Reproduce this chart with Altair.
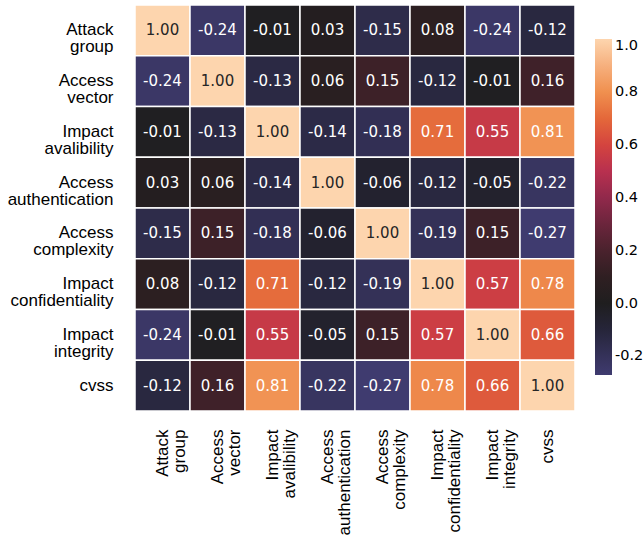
import altair as alt
import pandas as pd

# Feature names (a "|" marks the line break used in the axis labels)
features = [
    "Attack|group",
    "Access|vector",
    "Impact|avalibility",
    "Access|authentication",
    "Access|complexity",
    "Impact|confidentiality",
    "Impact|integrity",
    "cvss",
]

# Pairwise correlation matrix, one row per feature
corr = [
    [1.00, -0.24, -0.01, 0.03, -0.15, 0.08, -0.24, -0.12],
    [-0.24, 1.00, -0.13, 0.06, 0.15, -0.12, -0.01, 0.16],
    [-0.01, -0.13, 1.00, -0.14, -0.18, 0.71, 0.55, 0.81],
    [0.03, 0.06, -0.14, 1.00, -0.06, -0.12, -0.05, -0.22],
    [-0.15, 0.15, -0.18, -0.06, 1.00, -0.19, 0.15, -0.27],
    [0.08, -0.12, 0.71, -0.12, -0.19, 1.00, 0.57, 0.78],
    [-0.24, -0.01, 0.55, -0.05, 0.15, 0.57, 1.00, 0.66],
    [-0.12, 0.16, 0.81, -0.22, -0.27, 0.78, 0.66, 1.00],
]

# Diverging palette centred on zero (dark blue -> black -> red -> peach)
color_stops = [-0.27, -0.2, -0.1, 0.0, 0.1, 0.2, 0.3, 0.4, 0.5, 0.6, 0.7, 0.8, 0.9, 1.0]
color_values = [
    "#3f3b6f", "#35325a", "#26253a", "#1f1e1f", "#2f1f22", "#4a222d",
    "#6b253c", "#91294b", "#b8304f", "#d4443f", "#e4683a", "#f0904f",
    "#f6b07e", "#fdd5ae",
]
legend_ticks = [-0.2, 0.0, 0.2, 0.4, 0.6, 0.8, 1.0]

records = []
for i, row_name in enumerate(features):
    for j, col_name in enumerate(features):
        records.append({"row": row_name, "col": col_name, "value": corr[i][j]})
df = pd.DataFrame(records)

split_expr = "split(datum.label, '|')"

base = alt.Chart(df).encode(
    x=alt.X(
        "col:N",
        sort=features,
        title=None,
        axis=alt.Axis(
            labelExpr=split_expr,
            labelAngle=-90,
            labelAlign="right",
            labelBaseline="middle",
            labelPadding=18,
            labelFont="Liberation Sans",
            labelFontSize=17,
            labelLineHeight=17,
            labelColor="#000000",
            ticks=False,
            domain=False,
        ),
    ),
    y=alt.Y(
        "row:N",
        sort=features,
        title=None,
        axis=alt.Axis(
            labelExpr=split_expr,
            labelAlign="right",
            labelBaseline="middle",
            labelPadding=22,
            labelFont="Liberation Sans",
            labelFontSize=17,
            labelLineHeight=17,
            labelColor="#000000",
            ticks=False,
            domain=False,
        ),
    ),
)

cells = base.mark_rect(stroke="white", strokeWidth=1.5).encode(
    color=alt.Color(
        "value:Q",
        scale=alt.Scale(domain=color_stops, range=color_values, interpolate="rgb"),
        title=None,
        legend=alt.Legend(
            orient="none",
            legendX=460,
            legendY=34,
            direction="vertical",
            gradientLength=336,
            gradientThickness=17,
            gradientStrokeWidth=0,
            values=legend_ticks,
            labelExpr="replace(format(datum.value, '.1f'), '\u2212', '-')",
            labelFont="DejaVu Sans",
            labelFontSize=14.5,
            labelColor="#000000",
            labelOffset=3,
        ),
    )
)

labels = (
    base.transform_calculate(
        txt="replace(format(datum.value, '.2f'), '\u2212', '-')"
    )
    .mark_text(font="DejaVu Sans", fontSize=15)
    .encode(
        text="txt:N",
        color=alt.condition(
            alt.datum.value > 0.9, alt.value("#262626"), alt.value("#ffffff")
        ),
    )
)

chart = (
    alt.layer(cells, labels)
    .properties(
        width=440,
        height=406,
        autosize=alt.AutoSizeParams(type="none"),
        padding={"left": 135, "top": 5, "right": 68, "bottom": 129},
        background="white",
    )
    .configure_view(stroke=None)
    .configure_scale(bandPaddingInner=0, bandPaddingOuter=0)
)

chart.save("out.html", embed_options={"renderer": "svg", "actions": False})
